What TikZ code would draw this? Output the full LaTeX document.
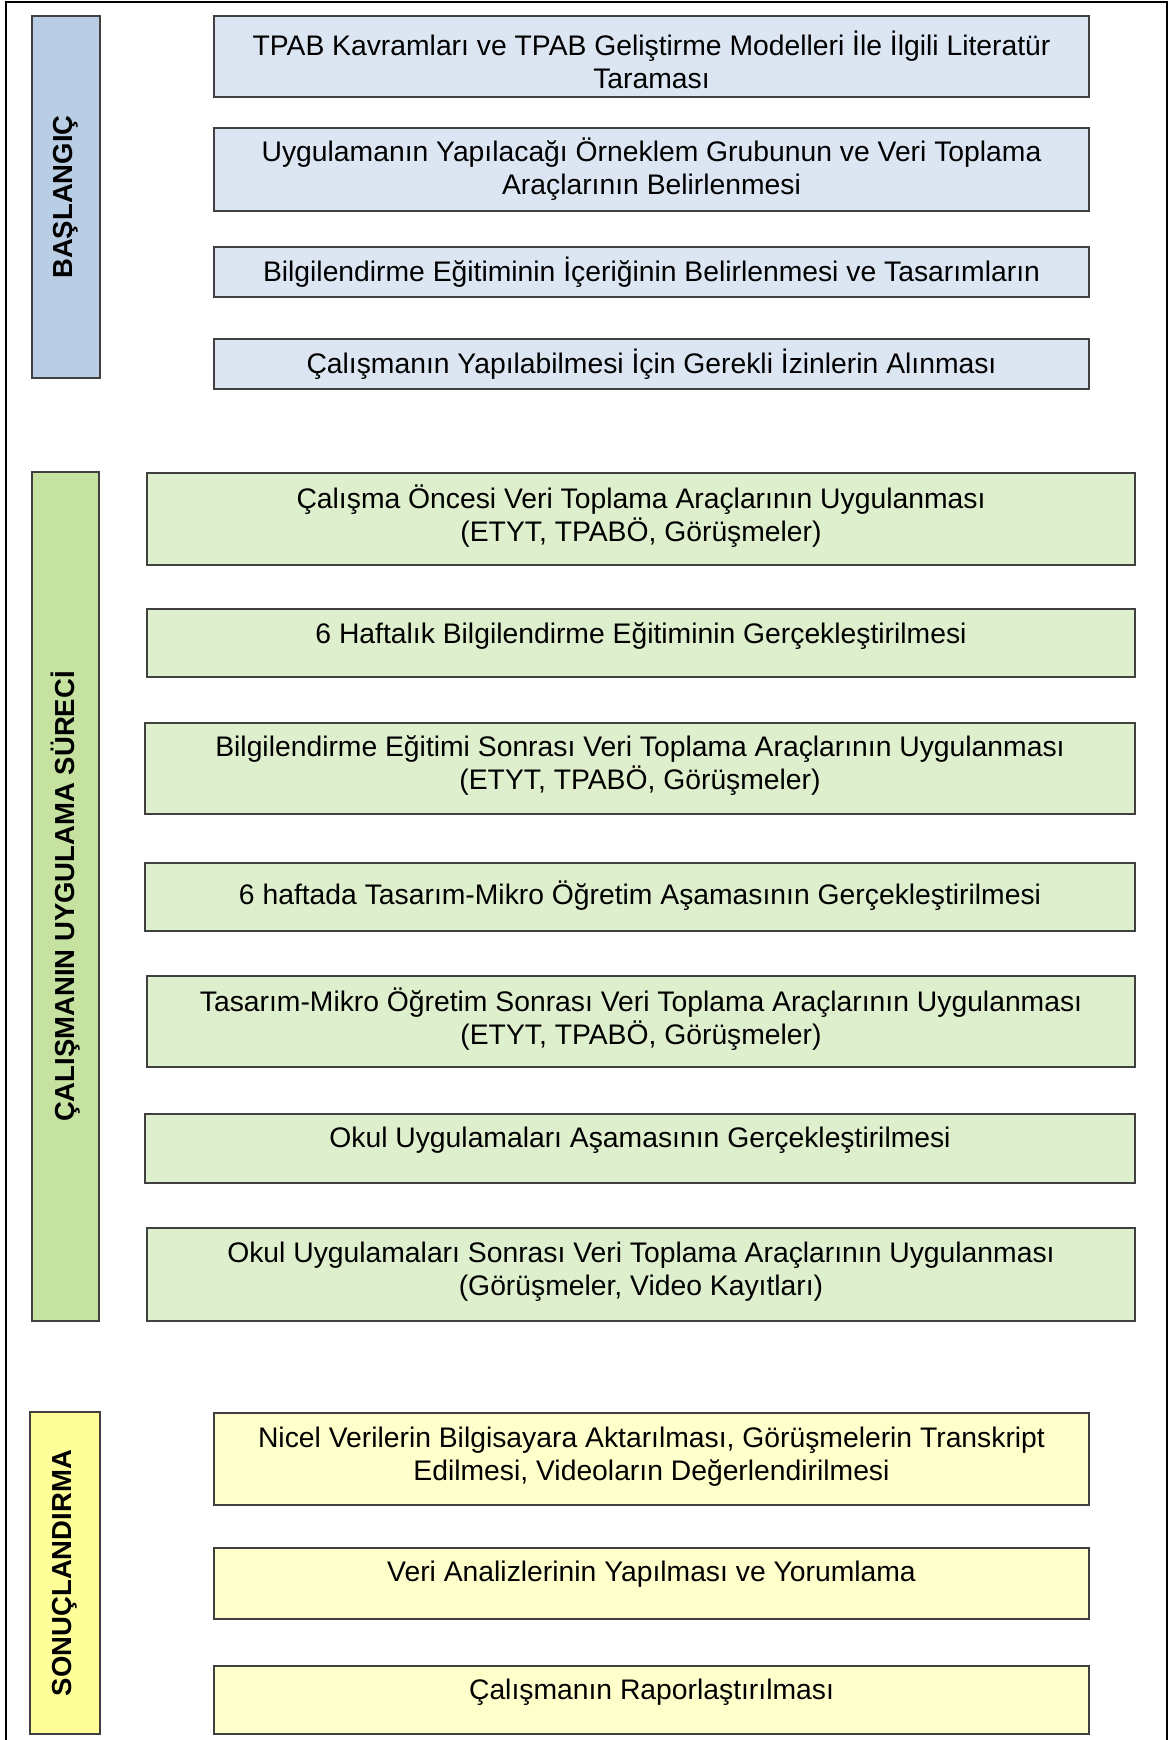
\documentclass[tikz,border=0pt]{standalone}
\usepackage{fontspec}
\setmainfont{Liberation Sans}
\begin{document}
\begin{tikzpicture}[x=1bp,y=-1bp,
  every node/.style={inner sep=0pt,outer sep=0pt},
  boxbase/.style={draw=black!75,line width=1.3bp,rectangle},
  bluestage/.style={boxbase,fill={rgb,255:red,185;green,205;blue,229}},
  bluebox/.style={boxbase,fill={rgb,255:red,220;green,230;blue,242}},
  greenstage/.style={boxbase,fill={rgb,255:red,197;green,226;blue,160}},
  greenbox/.style={boxbase,fill={rgb,255:red,222;green,239;blue,205}},
  yellowstage/.style={boxbase,fill={rgb,255:red,255;green,255;blue,153}},
  yellowbox/.style={boxbase,fill={rgb,255:red,255;green,255;blue,204}},
  txt/.style={align=center,font=\fontsize{28.3bp}{33bp}\selectfont,text=black},
  stagetxt/.style={rotate=90,font=\fontsize{27.5bp}{33bp}\selectfont\bfseries,text=black}]

\useasboundingbox (0,0) rectangle (1172,1740);

% outer frame, open at the bottom
\draw[line width=2.2bp,black] (6,1741) -- (6,2) -- (1167,2) -- (1167,1741);

% box with its text: name, style, x1, y1, x2, y2, text centre y, text
\newcommand\flowbox[8]{%
  \pgfmathsetmacro\fbw{#5-#3}\pgfmathsetmacro\fbh{#6-#4}%
  \node[#2,minimum width=\fbw bp,minimum height=\fbh bp] (#1) at ({(#3+#5)/2},{(#4+#6)/2}) {};
  \node[txt] (#1-t) at ({(#3+#5)/2},#7) {#8};}

% stage column: name, style, x1, y1, x2, y2, label
\newcommand\stagebox[7]{%
  \pgfmathsetmacro\fbw{#5-#3}\pgfmathsetmacro\fbh{#6-#4}%
  \node[#2,minimum width=\fbw bp,minimum height=\fbh bp] (#1) at ({(#3+#5)/2},{(#4+#6)/2}) {};
  \node[stagetxt] (#1-t) at (#1.center) {#7};}

% ---- Başlangıç
\stagebox{s1}{bluestage}{32}{16}{100}{378}{BAŞLANGIÇ}
\flowbox{b1}{bluebox}{214}{16}{1089}{97}{60}{TPAB Kavramları ve TPAB Geliştirme Modelleri İle İlgili Literatür\\Taraması}
\flowbox{b2}{bluebox}{214}{128}{1089}{211}{169}{Uygulamanın Yapılacağı Örneklem Grubunun ve Veri Toplama\\Araçlarının Belirlenmesi}
\flowbox{b3}{bluebox}{214}{247}{1089}{297}{272}{Bilgilendirme Eğitiminin İçeriğinin Belirlenmesi ve Tasarımların}
\flowbox{b4}{bluebox}{214}{339}{1089}{389}{364}{Çalışmanın Yapılabilmesi İçin Gerekli İzinlerin Alınması}

% ---- Uygulama süreci
\stagebox{s2}{greenstage}{32}{472}{99}{1321}{ÇALIŞMANIN UYGULAMA SÜRECİ}
\flowbox{g1}{greenbox}{147}{473}{1135}{565}{516}{Çalışma Öncesi Veri Toplama Araçlarının Uygulanması\\(ETYT, TPABÖ, Görüşmeler)}
\flowbox{g2}{greenbox}{147}{609}{1135}{677}{636}{6 Haftalık Bilgilendirme Eğitiminin Gerçekleştirilmesi}
\flowbox{g3}{greenbox}{145}{723}{1135}{814}{766}{Bilgilendirme Eğitimi Sonrası Veri Toplama Araçlarının Uygulanması\\(ETYT, TPABÖ, Görüşmeler)}
\flowbox{g4}{greenbox}{145}{863}{1135}{931}{896}{6 haftada Tasarım-Mikro Öğretim Aşamasının Gerçekleştirilmesi}
\flowbox{g5}{greenbox}{147}{976}{1135}{1067}{1019}{Tasarım-Mikro Öğretim Sonrası Veri Toplama Araçlarının Uygulanması\\(ETYT, TPABÖ, Görüşmeler)}
\flowbox{g6}{greenbox}{145}{1114}{1135}{1183}{1140}{Okul Uygulamaları Aşamasının Gerçekleştirilmesi}
\flowbox{g7}{greenbox}{147}{1228}{1135}{1321}{1272}{Okul Uygulamaları Sonrası Veri Toplama Araçlarının Uygulanması\\(Görüşmeler, Video Kayıtları)}

% ---- Sonuçlandırma
\stagebox{s3}{yellowstage}{30}{1412}{100}{1734}{SONUÇLANDIRMA}
\flowbox{y1}{yellowbox}{214}{1413}{1089}{1505}{1457}{Nicel Verilerin Bilgisayara Aktarılması, Görüşmelerin Transkript\\Edilmesi, Videoların Değerlendirilmesi}
\flowbox{y2}{yellowbox}{214}{1548}{1089}{1619}{1574}{Veri Analizlerinin Yapılması ve Yorumlama}
\flowbox{y3}{yellowbox}{214}{1666}{1089}{1734}{1692}{Çalışmanın Raporlaştırılması}
\end{tikzpicture}
\end{document}
